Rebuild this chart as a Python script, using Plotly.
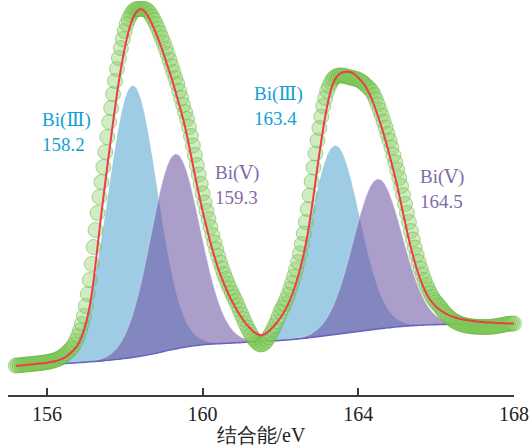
import plotly.graph_objects as go

# ---------------- data (y = intensity, arbitrary units) ----------------
X_FIT = [
    155.2, 155.3, 155.4, 155.5, 155.6, 155.7, 155.8, 155.9,
    156.0, 156.1, 156.2, 156.3, 156.4, 156.5, 156.6, 156.7, 156.8, 156.9,
    157.0, 157.1, 157.2, 157.3, 157.4, 157.5, 157.6, 157.7, 157.8, 157.9,
    158.0, 158.1, 158.2, 158.3, 158.4, 158.5, 158.6, 158.7, 158.8, 158.9,
    159.0, 159.1, 159.2, 159.3, 159.4, 159.5, 159.6, 159.7, 159.8, 159.9,
    160.0, 160.1, 160.2, 160.3, 160.4, 160.5, 160.6, 160.7, 160.8, 160.9,
    161.0, 161.1, 161.2, 161.3, 161.4, 161.5, 161.6, 161.7, 161.8, 161.9,
    162.0, 162.1, 162.2, 162.3, 162.4, 162.5, 162.6, 162.7, 162.8, 162.9,
    163.0, 163.1, 163.2, 163.3, 163.4, 163.5, 163.6, 163.7, 163.8, 163.9,
    164.0, 164.1, 164.2, 164.3, 164.4, 164.5, 164.6, 164.7, 164.8, 164.9,
    165.0, 165.1, 165.2, 165.3, 165.4, 165.5, 165.6, 165.7, 165.8, 165.9,
    166.0, 166.1, 166.2, 166.3, 166.4, 166.5, 166.6, 166.7, 166.8, 166.9,
    167.0, 167.1, 167.2, 167.3, 167.4, 167.5, 167.6, 167.7, 167.8, 167.9,
    168.0,
]

# Shirley-type background
BG = [
    29.0, 29.2, 29.4, 29.6, 29.8, 30.0, 30.2, 30.4,
    30.6, 30.8, 31.0, 31.2, 31.4, 31.6, 31.8, 32.0, 32.3, 32.6,
    32.9, 33.2, 33.5, 33.8, 34.1, 34.5, 34.9, 35.3, 35.7, 36.1,
    36.6, 37.1, 37.6, 38.2, 38.8, 39.5, 40.2, 41.0, 41.8, 42.7,
    43.6, 44.5, 45.3, 46.1, 46.9, 47.6, 48.3, 48.9, 49.4, 49.9,
    50.3, 50.6, 50.9, 51.1, 51.3, 51.5, 51.7, 51.9, 52.1, 52.3,
    52.5, 52.7, 52.9, 53.1, 53.3, 53.5, 53.7, 53.9, 54.1, 54.3,
    54.6, 54.9, 55.2, 55.5, 55.9, 56.3, 56.7, 57.1, 57.6, 58.1,
    58.6, 59.1, 59.6, 60.1, 60.6, 61.1, 61.6, 62.1, 62.6, 63.1,
    63.6, 64.1, 64.6, 65.1, 65.6, 66.1, 66.6, 67.0, 67.4, 67.8,
    68.2, 68.5, 68.8, 69.1, 69.4, 69.6, 69.8, 70.0, 70.2, 70.3,
    70.4, 70.5, 70.6, 70.7, 70.8, 70.9, 71.0, 71.0, 71.1, 71.1,
    71.2, 71.2, 71.2, 71.3, 71.3, 71.3, 71.3, 71.4, 71.4, 71.4,
    71.4,
]

# fitted envelope (red line)
ENVELOPE = [
    29.0, 29.4, 29.8, 30.2, 30.6, 31.0, 31.4, 31.8,
    32.3, 32.9, 33.7, 34.8, 36.3, 38.5, 41.8, 45.5, 50.5, 59.0,
    71.0, 89.0, 115, 148, 182, 213, 243, 273, 301, 326,
    347, 364, 376, 383, 386, 384, 378.5, 371, 362, 352,
    341, 329, 317, 304, 290, 276, 259, 240, 220.5, 201.5,
    184, 168, 152.5, 139, 126.5, 116, 106.5, 98, 90.5, 83.5,
    77.5, 72, 67.5, 63.5, 61, 59.8, 61, 63.8, 67.6, 72,
    77.2, 83.4, 91, 100.5, 112, 125.5, 141.5, 161.5, 186, 213.5,
    241.5, 267, 289, 305.5, 315.5, 320.5, 322.8, 323.3, 322.8, 320.8,
    317.3, 313.2, 307.5, 300, 290.5, 279.5, 267.5, 254.5, 240, 225,
    209, 191, 173, 155.5, 140, 126.5, 115, 105.5, 98, 92.5,
    88.2, 85, 82.4, 80.3, 78.6, 77.3, 76.3, 75.5, 74.8, 74.2,
    73.7, 73.3, 72.9, 72.6, 72.4, 72.2, 72.0, 71.8, 71.6, 71.5,
    71.4,
]

# peak components (height above background), on slices of X_FIT
P1_RANGE = (6, 55)     # 155.8 .. 160.6, Bi(III) 158.2
P1 = [0.2, 0.4, 0.6, 1.1, 1.8, 2.9, 4.6, 7.1, 10.8, 16.0, 23.0, 32.4, 44.3, 59.2, 77.2, 98.1,
      121.5, 146.7, 172.8, 198.5, 222.3, 242.8, 258.6, 268.6, 272.0, 268.6, 258.6, 242.8,
      222.3, 198.5, 172.8, 146.7, 121.5, 98.1, 77.2, 59.2, 44.3, 32.4, 23.0, 16.0, 10.8,
      7.1, 4.6, 2.9, 1.8, 1.1, 0.6, 0.4, 0.2]
P2_RANGE = (17, 66)    # 156.9 .. 161.7, Bi(V) 159.3
P2 = [0.1, 0.3, 0.4, 0.8, 1.3, 2.1, 3.3, 5.1, 7.7, 11.4, 16.5, 23.2, 31.8, 42.5, 55.3, 70.3,
      87.1, 105.2, 123.9, 142.3, 159.4, 174.1, 185.4, 192.6, 195.0, 192.6, 185.4, 174.1,
      159.4, 142.3, 123.9, 105.2, 87.1, 70.3, 55.3, 42.5, 31.8, 23.2, 16.5, 11.4, 7.7,
      5.1, 3.3, 2.1, 1.3, 0.8, 0.4, 0.3, 0.1]
P3_RANGE = (58, 107)   # 161.0 .. 165.8, Bi(III) 163.4
P3 = [0.1, 0.2, 0.4, 0.7, 1.2, 2.0, 3.2, 5.0, 7.5, 11.1, 16.0, 22.5, 30.8, 41.2, 53.6, 68.1,
      84.4, 101.9, 120.1, 137.9, 154.5, 168.7, 179.7, 186.6, 189.0, 186.6, 179.7, 168.7,
      154.5, 137.9, 120.1, 101.9, 84.4, 68.1, 53.6, 41.2, 30.8, 22.5, 16.0, 11.1, 7.5,
      5.0, 3.2, 2.0, 1.2, 0.7, 0.4, 0.2, 0.1]
P4_RANGE = (69, 118)   # 162.1 .. 166.9, Bi(V) 164.5
P4 = [0.1, 0.2, 0.3, 0.6, 1.0, 1.6, 2.5, 3.9, 6.0, 8.8, 12.7, 17.9, 24.5, 32.7, 42.6, 54.1,
      67.0, 80.9, 95.3, 109.5, 122.6, 133.9, 142.6, 148.1, 150.0, 148.1, 142.6, 133.9,
      122.6, 109.5, 95.3, 80.9, 67.0, 54.1, 42.6, 32.7, 24.5, 17.9, 12.7, 8.8, 6.0,
      3.9, 2.5, 1.6, 1.0, 0.6, 0.3, 0.2, 0.1]

# measured spectrum (green circles)
X_DATA = [
    155.2, 155.25, 155.3, 155.35, 155.4, 155.45, 155.5, 155.55, 155.6, 155.65,
    155.7, 155.75, 155.8, 155.85, 155.9, 155.95,
    156.0, 156.05, 156.1, 156.15, 156.2, 156.25, 156.3, 156.35, 156.4, 156.45,
    156.5, 156.55, 156.6, 156.65, 156.7, 156.75, 156.8, 156.85, 156.9, 156.95,
    157.0, 157.05, 157.1, 157.15, 157.2, 157.25, 157.3, 157.35, 157.4, 157.45,
    157.5, 157.55, 157.6, 157.65, 157.7, 157.75, 157.8, 157.85, 157.9, 157.95,
    158.0, 158.05, 158.1, 158.15, 158.2, 158.25, 158.3, 158.35, 158.4, 158.45,
    158.5, 158.55, 158.6, 158.65, 158.7, 158.75, 158.8, 158.85, 158.9, 158.95,
    159.0, 159.05, 159.1, 159.15, 159.2, 159.25, 159.3, 159.35, 159.4, 159.45,
    159.5, 159.55, 159.6, 159.65, 159.7, 159.75, 159.8, 159.85, 159.9, 159.95,
    160.0, 160.05, 160.1, 160.15, 160.2, 160.25, 160.3, 160.35, 160.4, 160.45,
    160.5, 160.55, 160.6, 160.65, 160.7, 160.75, 160.8, 160.85, 160.9, 160.95,
    161.0, 161.05, 161.1, 161.15, 161.2, 161.25, 161.3, 161.35, 161.4, 161.45,
    161.5, 161.55, 161.6, 161.65, 161.7, 161.75, 161.8, 161.85, 161.9, 161.95,
    162.0, 162.05, 162.1, 162.15, 162.2, 162.25, 162.3, 162.35, 162.4, 162.45,
    162.5, 162.55, 162.6, 162.65, 162.7, 162.75, 162.8, 162.85, 162.9, 162.95,
    163.0, 163.05, 163.1, 163.15, 163.2, 163.25, 163.3, 163.35, 163.4, 163.45,
    163.5, 163.55, 163.6, 163.65, 163.7, 163.75, 163.8, 163.85, 163.9, 163.95,
    164.0, 164.05, 164.1, 164.15, 164.2, 164.25, 164.3, 164.35, 164.4, 164.45,
    164.5, 164.55, 164.6, 164.65, 164.7, 164.75, 164.8, 164.85, 164.9, 164.95,
    165.0, 165.05, 165.1, 165.15, 165.2, 165.25, 165.3, 165.35, 165.4, 165.45,
    165.5, 165.55, 165.6, 165.65, 165.7, 165.75, 165.8, 165.85, 165.9, 165.95,
    166.0, 166.05, 166.1, 166.15, 166.2, 166.25, 166.3, 166.35, 166.4, 166.45,
    166.5, 166.55, 166.6, 166.65, 166.7, 166.75, 166.8, 166.85, 166.9, 166.95,
    167.0, 167.05, 167.1, 167.15, 167.2, 167.25, 167.3, 167.35, 167.4, 167.45,
    167.5, 167.55, 167.6, 167.65, 167.7, 167.75, 167.8, 167.85, 167.9, 167.95,
    168.0,
]
Y_DATA = [
    29.4, 29.6, 29.8, 30.0, 30.2, 30.4, 30.6, 30.8, 31.0, 31.2,
    31.4, 31.6, 31.8, 32.0, 32.3, 32.6,
    32.9, 33.3, 33.7, 34.2, 34.8, 35.5, 36.3, 37.3, 38.5, 40.0,
    41.8, 43.6, 45.5, 47.5, 50.5, 54.5, 59.0, 64.5, 71.0, 79.0,
    89, 101, 115, 131, 148, 165, 182, 198, 213, 228,
    243, 258, 273, 287, 301, 314, 326, 337, 347, 356,
    364, 371, 376, 380, 383, 385, 386, 386, 386, 386,
    386, 385.5, 384, 381.5, 378.5, 375, 371, 366.5, 362, 357,
    352, 346.5, 341, 335, 329, 323, 317, 311, 304, 297,
    290, 283, 276, 268, 259, 249.5, 240, 230, 220.5, 211,
    201.5, 192.5, 184, 176, 168, 160, 152.5, 145.5, 139, 132.5,
    126.5, 121, 116, 111, 106.5, 102, 98, 94, 89.5, 85,
    80.5, 76, 71.5, 67.5, 63.5, 60, 57, 54.5, 52.5, 51,
    50.5, 51, 52.5, 54.8, 57.8, 61.2, 65, 69, 73.3, 78,
    83.4, 87, 91, 95.5, 100.5, 106, 112, 118.5, 125.5, 133,
    141.5, 151, 161.5, 173, 186, 199.5, 213.5, 227.5, 241.5, 254.5,
    267, 278.5, 289, 297, 304, 309, 313, 316, 318, 319,
    319.5, 319.5, 319.5, 319, 318.5, 318, 317.5, 317, 316.5, 316,
    315.3, 314.3, 313, 311.5, 309.5, 307.8, 305.9, 303.5, 300, 295.5,
    290.5, 285, 279.5, 273.5, 267.5, 261, 254.5, 247.5, 240, 232.5,
    225, 217, 209, 200, 191, 182, 173, 164, 155.5, 147.5,
    140, 133, 126.5, 120.5, 115, 110, 105.5, 101.5, 98, 95,
    92.5, 90.2, 88.2, 85.5, 83, 81, 79, 77.3, 75.8, 74.5,
    73.3, 72.3, 71.5, 70.8, 70.2, 69.7, 69.3, 69.0, 68.7, 68.5,
    68.3, 68.2, 68.1, 68.0, 68.0, 68.0, 68.0, 68.1, 68.2, 68.4,
    68.6, 68.9, 69.2, 69.6, 70.0, 70.4, 70.8, 71.1, 71.3, 71.4,
    71.5,
]

TICKS = [156, 160, 164, 168]
X_TITLE = "结合能/eV"
STATES = ["Ⅲ", "Ⅴ", "Ⅲ", "Ⅴ"]
ENERGIES = ["158.2", "159.3", "163.4", "164.5"]

assert len(X_FIT) == len(BG) == len(ENVELOPE)
assert len(X_DATA) == len(Y_DATA)
for rng, comp in ((P1_RANGE, P1), (P2_RANGE, P2), (P3_RANGE, P3), (P4_RANGE, P4)):
    assert rng[1] - rng[0] == len(comp)

# ---------------- styles ----------------
BLUE_FILL = "rgb(158,204,228)"
PURPLE_FILL = "rgba(109,85,164,0.57)"
BLUE_TEXT = "rgb(20,160,212)"
PURPLE_TEXT = "rgb(130,108,168)"
SERIF = "Liberation Serif"

fig = go.Figure()


def add_component(rng, comp, color, edge):
    xs = X_FIT[rng[0]:rng[1]]
    bgs = BG[rng[0]:rng[1]]
    tops = [b + c for b, c in zip(bgs, comp)]
    fig.add_trace(go.Scatter(
        x=xs + xs[::-1], y=tops + bgs[::-1], mode="lines", fill="toself",
        fillcolor=color, line=dict(color=edge, width=0.8, shape="spline", smoothing=0.6),
        hoverinfo="skip"))


add_component(P1_RANGE, P1, BLUE_FILL, "rgba(158,204,228,0)")
add_component(P3_RANGE, P3, BLUE_FILL, "rgba(158,204,228,0)")
add_component(P2_RANGE, P2, PURPLE_FILL, "rgba(235,230,248,0.55)")
add_component(P4_RANGE, P4, PURPLE_FILL, "rgba(235,230,248,0.55)")

fig.add_trace(go.Scatter(x=X_FIT, y=BG, mode="lines",
                         line=dict(color="rgb(105,100,190)", width=1.6, shape="spline"),
                         hoverinfo="skip"))

fig.add_trace(go.Scatter(x=X_DATA, y=Y_DATA, mode="markers", cliponaxis=False,
                         marker=dict(size=15, color="rgba(135,205,95,0.38)",
                                     line=dict(color="rgba(100,180,60,0.5)", width=1)),
                         hoverinfo="skip"))

fig.add_trace(go.Scatter(x=X_FIT, y=ENVELOPE, mode="lines", cliponaxis=False,
                         line=dict(color="rgb(236,62,74)", width=2, shape="spline", smoothing=0.8),
                         hoverinfo="skip"))

label_pos = [(155.82, 264), (160.27, 211), (161.27, 290), (165.53, 207)]
label_col = [BLUE_TEXT, PURPLE_TEXT, BLUE_TEXT, PURPLE_TEXT]
for state, energy, (lx, ly), col in zip(STATES, ENERGIES, label_pos, label_col):
    text = ("Bi(<span style='font-family:DejaVu Serif'>" + state + "</span>)<br>" + energy)
    fig.add_annotation(x=lx, y=ly, xref="x", yref="y", text=text, showarrow=False,
                       xanchor="left", yanchor="middle", align="left",
                       font=dict(family=SERIF, size=19, color=col))

fig.update_layout(
    width=530, height=446, autosize=False,
    margin=dict(l=8, r=16, t=0, b=51),
    paper_bgcolor="white", plot_bgcolor="white",
    showlegend=False,
    font=dict(family=SERIF),
    xaxis=dict(range=[155, 168], tickvals=TICKS, ticktext=[str(t) for t in TICKS],
               ticks="inside", ticklen=7, tickwidth=1.6, tickcolor="#3c3c3c",
               showline=True, linecolor="#3c3c3c", linewidth=1.6,
               showgrid=False, zeroline=False,
               tickfont=dict(family=SERIF, size=20, color="#222"),
               title=dict(text=X_TITLE, standoff=4,
                          font=dict(family=SERIF, size=20, color="#222"))),
    yaxis=dict(range=[0, 395], visible=False, showgrid=False, zeroline=False),
)

fig.write_html("out.html")
